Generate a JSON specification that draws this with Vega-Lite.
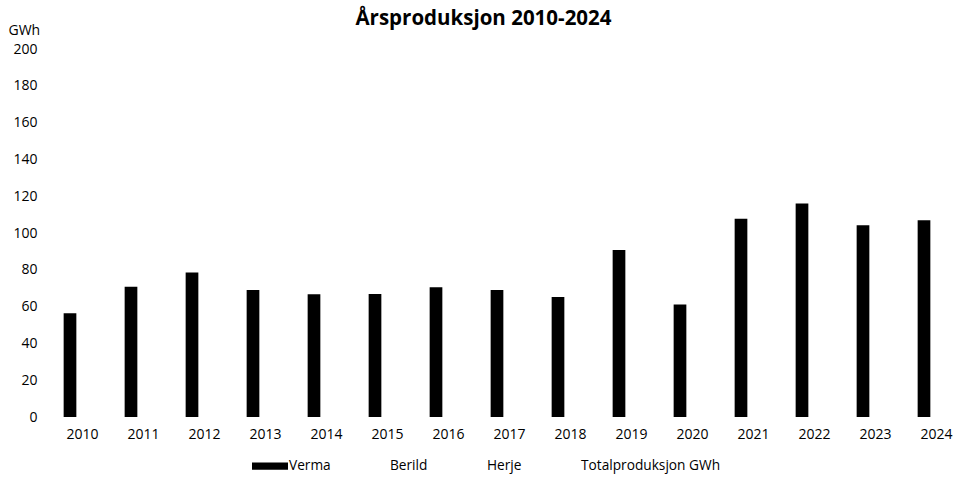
{
  "$schema": "https://vega.github.io/schema/vega-lite/v6.json",
  "width": 901,
  "height": 368,
  "autosize": {"type": "none"},
  "padding": {"left": 52, "top": 49, "right": 0, "bottom": 67},
  "background": "white",
  "config": {"view": {"stroke": null}},
  "title": {"text": "Årsproduksjon 2010-2024", "font": "Open Sans", "fontSize": 20.5, "fontWeight": "bold", "color": "black", "anchor": "middle", "dx": -19, "offset": -6},
  "data": {"values": [
    {"år": "2010", "serie": "Verma", "GWh": 56.4},
    {"år": "2011", "serie": "Verma", "GWh": 70.8},
    {"år": "2012", "serie": "Verma", "GWh": 78.6},
    {"år": "2013", "serie": "Verma", "GWh": 69.0},
    {"år": "2014", "serie": "Verma", "GWh": 66.7},
    {"år": "2015", "serie": "Verma", "GWh": 66.8},
    {"år": "2016", "serie": "Verma", "GWh": 70.5},
    {"år": "2017", "serie": "Verma", "GWh": 69.0},
    {"år": "2018", "serie": "Verma", "GWh": 65.2},
    {"år": "2019", "serie": "Verma", "GWh": 90.8},
    {"år": "2020", "serie": "Verma", "GWh": 61.2},
    {"år": "2021", "serie": "Verma", "GWh": 107.8},
    {"år": "2022", "serie": "Verma", "GWh": 116.1},
    {"år": "2023", "serie": "Verma", "GWh": 104.2},
    {"år": "2024", "serie": "Verma", "GWh": 106.9}
  ]},
  "mark": {"type": "bar", "color": "black"},
  "encoding": {
    "x": {
      "field": "år", "type": "ordinal",
      "scale": {"range": [0, 915], "paddingInner": 0, "paddingOuter": 0},
      "axis": {"title": null, "labelAngle": 0, "domain": false, "ticks": false, "grid": false, "labelPadding": 10, "labelFont": "Open Sans", "labelFontSize": 14, "labelColor": "black"}
    },
    "xOffset": {
      "field": "serie",
      "scale": {"domain": ["Verma", "Totalproduksjon GWh"], "paddingInner": 0.492, "paddingOuter": 0.466}
    },
    "y": {
      "field": "GWh", "type": "quantitative",
      "scale": {"domain": [0, 200]},
      "axis": {
        "values": [0, 20, 40, 60, 80, 100, 120, 140, 160, 180, 200],
        "grid": false, "domain": false, "ticks": false, "labelPadding": 15,
        "labelFont": "Open Sans", "labelFontSize": 14, "labelColor": "black",
        "title": "GWh", "titleAngle": 0, "titleAlign": "left", "titleX": -44, "titleY": -15,
        "titleBaseline": "alphabetic", "titleFont": "Open Sans", "titleFontSize": 14, "titleFontWeight": "normal", "titleColor": "black"
      }
    },
    "color": {
      "field": "serie", "type": "nominal",
      "scale": {"domain": ["Verma", "Berild", "Herje", "Totalproduksjon GWh"], "range": ["#000000", "#ffffff", "#ffffff", "#ffffff"]},
      "legend": {
        "title": null, "orient": "none", "legendX": 200, "legendY": 399, "direction": "horizontal",
        "symbolType": "M-1,-0.2H1V0.2H-1Z", "symbolSize": 1296, "symbolStrokeWidth": 0,
        "labelFont": "Open Sans", "labelFontSize": 13.7, "labelColor": "black", "labelOffset": 1, "columnPadding": 22
      }
    }
  }
}
